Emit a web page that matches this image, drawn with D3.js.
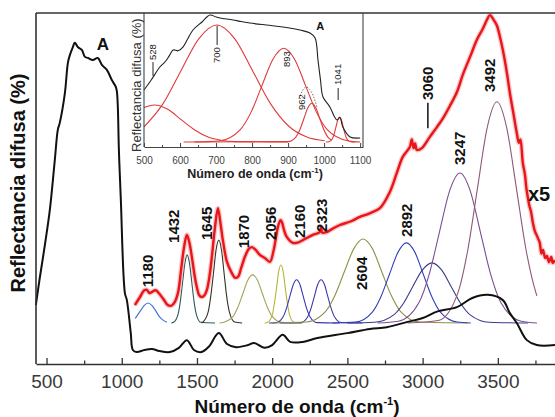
<!DOCTYPE html>
<html>
<head>
<meta charset="utf-8">
<script src="https://d3js.org/d3.v7.min.js"></script>
<style>
  body { margin: 0; background: #fff; }
  svg { font-family: "Liberation Sans", Arial, sans-serif; }
</style>
</head>
<body>
<div id="chart"></div>
<script>
// ---- Data (wavenumber cm-1, reflectance in arbitrary %) ----
var ticksX = [500, 1000, 1500, 2000, 2500, 3000, 3500];
var ticksXMinor = [750, 1250, 1750, 2250, 2750, 3250, 3750];
var ticksInset = [500, 600, 700, 800, 900, 1000, 1100];
var ticksInsetMinor = [550, 650, 750, 850, 950, 1050];

// black spectrum (A)
var espectroNegro = [[429,16.8],[455,24.5],[489,33.9],[522,43.9],[555,58.1],[575,66.7],[588,68.7],[622,77.2],[642,85.8],[655,88.0],[675,90.3],[688,91.5],[708,90.3],[735,89.5],[755,87.5],[775,87.2],[808,86.6],[841,87.2],[868,85.2],[901,83.8],[934,80.9],[961,78.9],[968,77.5],[974,73.2],[981,61],[994,46.7],[1021,20.2],[1034,18.2],[1060,8.8],[1074,4.0],[1100,3.4],[1150,4.0],[1200,4.3],[1250,3.7],[1320,3.4],[1380,4.6],[1433,6.8],[1480,4.0],[1530,3.4],[1580,5.0],[1645,8.8],[1700,5.7],[1760,4.8],[1840,5.4],[1880,6.0],[1950,4.6],[2000,5.4],[2070,8.3],[2120,6.3],[2204,6.3],[2300,7.4],[2500,8.8],[2650,10.0],[2762,10.5],[2900,12.0],[3001,13.1],[3100,15.0],[3228,16.2],[3330,18.8],[3433,19.7],[3533,18.2],[3580,14.5],[3626,11.7],[3693,6.8],[3759,5.4],[3880,5.4]];

// red spectrum (x5)
var espectroRojo = [[1087,16.8],[1120,19.0],[1150,21.0],[1167,21.1],[1185,20.2],[1200,20.5],[1225,21.0],[1250,20.0],[1280,18.3],[1306,16.8],[1330,16.6],[1353,17.7],[1375,20.5],[1395,27],[1415,33.5],[1433,36.8],[1450,34.5],[1466,30.5],[1485,25],[1499,21.9],[1515,19.6],[1532,19.1],[1550,19.6],[1566,21.1],[1585,25.5],[1599,30.5],[1620,39.0],[1639,44.4],[1655,40.5],[1672,35.3],[1700,29.0],[1732,25.9],[1752,24.6],[1772,24.8],[1795,27.5],[1818,30.5],[1845,32.8],[1865,33.3],[1890,32.5],[1918,31.1],[1951,30.2],[1985,29.1],[2010,32.5],[2038,39.0],[2055,41.0],[2064,40.5],[2080,38.0],[2097,36.2],[2137,34.5],[2170,34.6],[2204,35.3],[2270,36.8],[2317,37.6],[2325,39.0],[2333,37.4],[2363,37.6],[2400,38.5],[2450,39.6],[2520,40.6],[2583,41.9],[2640,42.8],[2716,44.4],[2782,49.0],[2829,54.5],[2868,59.0],[2915,61.8],[2928,64.0],[2940,61.5],[2950,62.8],[2962,61.0],[2995,61.5],[3048,64.7],[3095,67.5],[3135,70.0],[3181,73.5],[3228,77.5],[3268,82.5],[3320,88],[3360,92.3],[3400,95.5],[3427,98.0],[3447,99.4],[3470,98.2],[3493,96.5],[3515,93],[3533,89.5],[3560,83],[3580,77.2],[3605,71],[3626,65.8],[3640,63.0],[3650,64.0],[3666,57.3],[3680,54.0],[3690,50.0],[3699,47.6],[3710,45.0],[3720,43.5],[3733,40.2],[3745,38.0],[3760,36.5],[3770,35.5],[3779,34.5],[3790,31.5],[3800,32.5],[3815,30.2],[3826,30.8],[3840,29.0],[3855,30.5],[3865,28.8],[3879,29.6]];

// fitted bands (main plot)
var banda1180 = [[1090,13.0],[1125,15.2],[1150,16.7],[1175,17.4],[1200,16.7],[1225,15.2],[1250,13.5],[1275,12.5],[1300,11.9]];
var banda1432 = [[1330,11.7],[1345,11.9],[1375,14.3],[1390,18.0],[1405,23.5],[1420,28.8],[1435,31.1],[1450,28.8],[1465,23.5],[1480,18.0],[1495,14.3],[1525,11.9],[1620,11.7]];
var banda1645 = [[1530,11.7],[1540,11.96],[1575,14.9],[1592,19.4],[1610,26.0],[1627,32.5],[1645,35.3],[1663,32.5],[1680,26.0],[1697,19.4],[1715,14.9],[1750,11.96],[1800,11.7]];
var banda1870 = [[1650,11.7],[1675,11.85],[1740,13.55],[1772,16.15],[1805,20.0],[1837,23.8],[1870,25.4],[1903,23.8],[1935,20.0],[1968,16.15],[2000,13.55],[2065,11.85],[2200,11.7]];
var banda2056 = [[1950,11.7],[1971,11.9],[2000,13.9],[2014,17.1],[2029,21.7],[2043,26.3],[2058,28.2],[2073,26.3],[2087,21.7],[2102,17.1],[2116,13.9],[2145,11.9],[2200,11.7]];
var banda2160 = [[1980,11.7],[2027,11.8],[2072,13.4],[2094,15.7],[2117,19.2],[2140,22.6],[2162,24.0],[2185,22.6],[2207,19.2],[2230,15.7],[2252,13.4],[2297,11.8],[2450,11.7]];
var banda2323 = [[2050,11.7],[2190,11.8],[2235,13.4],[2257,15.7],[2280,19.2],[2302,22.6],[2325,24.0],[2348,22.6],[2370,19.2],[2393,15.7],[2415,13.4],[2460,11.8],[2600,11.7]];
var banda2604 = [[2000,11.7],[2229,11.97],[2354,14.9],[2417,19.5],[2479,26.2],[2542,32.8],[2604,35.6],[2667,32.8],[2729,26.2],[2792,19.5],[2854,14.9],[2979,11.97],[3300,11.7]];
var banda2892 = [[2400,11.7],[2553,11.95],[2666,14.8],[2722,19.1],[2779,25.5],[2836,31.8],[2892,34.5],[2949,31.8],[3005,25.5],[3062,19.1],[3118,14.8],[3231,11.95],[3320,11.7]];
var banda3060 = [[2500,11.7],[2681,11.9],[2808,14.0],[2872,17.25],[2935,22.1],[2999,26.8],[3062,28.8],[3126,26.8],[3189,22.1],[3253,17.25],[3316,14.0],[3443,11.9],[3700,11.7]];
var banda3247 = [[2700,11.7],[2840,12.2],[2976,17.5],[3044,25.6],[3112,37.6],[3180,49.4],[3248,54.4],[3316,49.4],[3384,37.6],[3452,25.6],[3520,17.5],[3656,12.2],[3760,11.7]];
var banda3492 = [[2900,11.7],[3104,12.4],[3234,20.2],[3299,32.2],[3364,49.9],[3429,67.3],[3494,74.7],[3559,67.3],[3624,49.9],[3689,32.2],[3754,20.2],[3760,19.4]];

var bandas = [banda1180, banda1432, banda1645, banda1870, banda2056, banda2160,
              banda2323, banda2604, banda2892, banda3060, banda3247, banda3492];
var coloresBandas = ["#3a6fd8", "#2b5a5a", "#33332a", "#a3a35a", "#b5b53a", "#3a3ab0",
                     "#3a3ab0", "#8f8f4a", "#3340b8", "#3a3a8a", "#7a4f8f", "#8b5a7a"];

// peak labels: text, wavenumber and reflectance of the label's lower end
var etiquetasTexto = ["1180", "1432", "1645", "1870", "2056", "2160", "2323", "2604", "2892", "3060", "3247", "3492"];
var etiquetasX = [1173, 1346, 1566, 1812, 1991, 2184, 2330, 2596, 2895, 3035, 3248, 3447];
var etiquetasY = [21.9, 34.5, 35.3, 33.0, 35.3, 35.9, 37.6, 21.1, 36.2, 75.2, 56.7, 77.5];

// inset (500-1100 cm-1)
var insetNegro = [[500,42.5],[520,50],[544,59.7],[560,64],[570,68],[581,72.4],[595,71.8],[608,74.6],[620,80],[636,87.3],[661,93.3],[683,98.5],[700,97],[711,96.3],[747,94.8],[770,93.6],[794,92.5],[840,91],[886,89.6],[933,87.3],[961,85.1],[975,81.3],[983,64.9],[990,50],[997,37.3],[1016,29.9],[1030,22],[1036,20.1],[1044,22],[1052,14.9],[1072,7.5],[1100,6.7]];
var inset528 = [[500,29.4],[528,31.3],[566,28.1],[603,20.4],[641,12.7],[678,7.4],[716,4.9],[753,4.0],[900,3.7]];
var inset700 = [[500,15.0],[552,32.0],[602,56.6],[652,80.7],[702,91.0],[752,80.7],[802,56.6],[852,32.0],[902,15.5],[952,7.5],[1002,4.7]];
var inset893 = [[640,3.7],[708,4.5],[768,13.2],[798,26.4],[828,46.2],[858,65.5],[888,73.7],[918,65.5],[948,46.2],[978,26.4],[1008,13.2],[1068,4.5],[1100,3.7]];
var inset962 = [[610,3.7],[900,4.0],[922,7.6],[933,13.1],[944,21.3],[955,29.3],[966,32.7],[977,29.3],[988,21.3],[999,13.1],[1010,7.6],[1021,5.0]];
var inset1041 = [[1005,3.7],[1013,3.9],[1023,6.2],[1028,9.8],[1033,15.0],[1038,20.2],[1043,22.4],[1048,20.2],[1053,15.0],[1058,9.8],[1063,6.2],[1073,3.9],[1085,3.7]];
var insetPunteado = [[930,36],[940,42],[950,44.8],[960,43],[970,38],[980,30]];
var insetBandas = [inset528, inset700, inset893, inset962, inset1041];

var insetEtiquetasTexto = ["528", "700", "893", "962", "1041"];
var insetEtiquetasX = [525, 703, 897, 939, 1039];
var insetEtiquetasY = [64.9, 62.7, 59.7, 27.6, 46.3];

// ---- Layout ----
var svgWidth = 555;
var svgHeight = 417;
var margin = { top: 13, right: 0, bottom: 53, left: 36 };
var chartWidth = svgWidth - margin.left - margin.right;
var chartHeight = svgHeight - margin.top - margin.bottom;

var svg = d3.select("#chart")
  .append("svg")
  .attr("width", svgWidth)
  .attr("height", svgHeight);

var chartGroup = svg.append("g")
  .attr("transform", `translate(${margin.left}, ${margin.top})`);

var xScale = d3.scaleLinear().domain([430, 3880]).range([0, chartWidth]);
var yScale = d3.scaleLinear().domain([0, 100]).range([chartHeight, 0]);

var lineSmooth = d3.line()
  .x(d => xScale(d[0]))
  .y(d => yScale(d[1]))
  .curve(d3.curveCatmullRom.alpha(0.5));

var lineBand = d3.line()
  .x(d => xScale(d[0]))
  .y(d => yScale(d[1]))
  .curve(d3.curveMonotoneX);

// fitted bands
chartGroup.selectAll(".banda")
  .data(bandas)
  .enter()
  .append("path")
  .attr("class", "banda")
  .attr("d", lineBand)
  .attr("fill", "none")
  .attr("stroke", (d, i) => coloresBandas[i])
  .attr("stroke-width", 1.1);

// black spectrum
chartGroup.append("path")
  .attr("d", lineSmooth(espectroNegro))
  .attr("fill", "none")
  .attr("stroke", "#111")
  .attr("stroke-width", 2);

// red spectrum with a soft halo
chartGroup.append("path")
  .attr("d", lineSmooth(espectroRojo))
  .attr("fill", "none")
  .attr("stroke", "#f6a5a5")
  .attr("stroke-width", 5)
  .attr("opacity", 0.6);
chartGroup.append("path")
  .attr("d", lineSmooth(espectroRojo))
  .attr("fill", "none")
  .attr("stroke", "#e8151b")
  .attr("stroke-width", 2.4)
  .attr("stroke-linejoin", "round");

// peak labels
chartGroup.selectAll(".pico")
  .data(etiquetasTexto)
  .enter()
  .append("text")
  .attr("class", "pico")
  .attr("transform", (d, i) => `translate(${xScale(etiquetasX[i])}, ${yScale(etiquetasY[i])}) rotate(-90)`)
  .attr("dy", "0.35em")
  .attr("font-size", 15)
  .attr("font-weight", "bold")
  .attr("fill", "#111")
  .text(d => d);

// arrow line under 3060
chartGroup.append("line")
  .attr("x1", xScale(3035)).attr("x2", xScale(3035))
  .attr("y1", yScale(74.4)).attr("y2", yScale(67.2))
  .attr("stroke", "#111").attr("stroke-width", 1.5);

chartGroup.append("text")
  .attr("x", xScale(3700)).attr("y", yScale(46.5))
  .attr("font-size", 20).attr("font-weight", "bold").attr("fill", "#111")
  .text("x5");

chartGroup.append("text")
  .attr("x", xScale(874)).attr("y", yScale(89.5))
  .attr("text-anchor", "middle")
  .attr("font-size", 17).attr("font-weight", "bold").attr("fill", "#111")
  .text("A");

// axes / frame
var xAxis = chartGroup.append("g")
  .attr("transform", `translate(0, ${chartHeight})`)
  .call(d3.axisBottom(xScale).tickValues(ticksX).tickFormat(d3.format("d"))
    .tickSizeInner(-6).tickSizeOuter(0).tickPadding(11));
xAxis.select(".domain").attr("stroke", "#333").attr("stroke-width", 1.6);
xAxis.selectAll(".tick line").attr("stroke", "#333").attr("stroke-width", 1.3);
xAxis.selectAll("text").attr("font-size", 19).attr("fill", "#3a3a3a")
  .attr("font-family", "'Liberation Sans', Arial, sans-serif");

var xMinor = chartGroup.append("g")
  .attr("transform", `translate(0, ${chartHeight})`)
  .call(d3.axisBottom(xScale).tickValues(ticksXMinor).tickSize(-3.5).tickFormat(""));
xMinor.select(".domain").remove();
xMinor.selectAll(".tick line").attr("stroke", "#333").attr("stroke-width", 1.3);

chartGroup.append("line")
  .attr("x1", 0).attr("x2", 0).attr("y1", 0).attr("y2", chartHeight)
  .attr("stroke", "#333").attr("stroke-width", 1.6);
chartGroup.append("line")
  .attr("x1", 0).attr("x2", chartWidth).attr("y1", 0).attr("y2", 0)
  .attr("stroke", "#333").attr("stroke-width", 1.6);

// axis titles
var xTitle = svg.append("text")
  .attr("x", 297).attr("y", 413)
  .attr("text-anchor", "middle")
  .attr("font-size", 19).attr("font-weight", "bold").attr("fill", "#111");
xTitle.append("tspan").text("Número de onda (cm");
xTitle.append("tspan").attr("dy", -8).attr("font-size", 11).text("-1");
xTitle.append("tspan").attr("dy", 8).text(")");

svg.append("text")
  .attr("transform", "translate(25, 183) rotate(-90)")
  .attr("text-anchor", "middle")
  .attr("font-size", 20).attr("font-weight", "bold").attr("fill", "#111")
  .text("Reflectancia difusa (%)");

// ---- Inset ----
var inset = { left: 144, top: 13, width: 219, height: 134 };
var insetGroup = svg.append("g")
  .attr("transform", `translate(${inset.left}, ${inset.top})`);

var insetX = d3.scaleLinear().domain([500, 1108]).range([0, inset.width]);
var insetY = d3.scaleLinear().domain([0, 100]).range([inset.height, 0]);

var insetLine = d3.line()
  .x(d => insetX(d[0]))
  .y(d => insetY(d[1]))
  .curve(d3.curveMonotoneX);

insetGroup.selectAll(".ibanda")
  .data(insetBandas)
  .enter()
  .append("path")
  .attr("class", "ibanda")
  .attr("d", insetLine)
  .attr("fill", "none")
  .attr("stroke", "#e03a3a")
  .attr("stroke-width", 1.1);

insetGroup.append("path")
  .attr("d", insetLine(insetPunteado))
  .attr("fill", "none")
  .attr("stroke", "#777")
  .attr("stroke-width", 1)
  .attr("stroke-dasharray", "1.5,1.5");

insetGroup.append("path")
  .attr("d", d3.line().x(d => insetX(d[0])).y(d => insetY(d[1])).curve(d3.curveCatmullRom.alpha(0.5))(insetNegro))
  .attr("fill", "none")
  .attr("stroke", "#222")
  .attr("stroke-width", 1.1);

insetGroup.selectAll(".ipico")
  .data(insetEtiquetasTexto)
  .enter()
  .append("text")
  .attr("class", "ipico")
  .attr("transform", (d, i) => `translate(${insetX(insetEtiquetasX[i])}, ${insetY(insetEtiquetasY[i])}) rotate(-90)`)
  .attr("dy", "0.35em")
  .attr("font-size", 9.5)
  .attr("fill", "#222")
  .text(d => d);

// small marker lines for 528, 700 and 1041
insetGroup.append("line")
  .attr("x1", insetX(525)).attr("x2", insetX(525))
  .attr("y1", insetY(63.4)).attr("y2", insetY(53.0))
  .attr("stroke", "#222").attr("stroke-width", 1);
insetGroup.append("line")
  .attr("x1", insetX(703)).attr("x2", insetX(703))
  .attr("y1", insetY(76.1)).attr("y2", insetY(90.3))
  .attr("stroke", "#222").attr("stroke-width", 1);
insetGroup.append("line")
  .attr("x1", insetX(1039)).attr("x2", insetX(1039))
  .attr("y1", insetY(44.0)).attr("y2", insetY(35.1))
  .attr("stroke", "#222").attr("stroke-width", 1);

insetGroup.append("text")
  .attr("x", insetX(989)).attr("y", insetY(87.3))
  .attr("text-anchor", "middle")
  .attr("font-size", 11).attr("font-weight", "bold").attr("fill", "#111")
  .text("A");

var insetAxis = insetGroup.append("g")
  .attr("transform", `translate(0, ${inset.height})`)
  .call(d3.axisBottom(insetX).tickValues(ticksInset).tickFormat(d3.format("d"))
    .tickSizeInner(-4).tickSizeOuter(0).tickPadding(10));
insetAxis.select(".domain").attr("stroke", "#444").attr("stroke-width", 1.1);
insetAxis.selectAll(".tick line").attr("stroke", "#444");
insetAxis.selectAll("text").attr("font-size", 10).attr("fill", "#444")
  .attr("font-family", "'Liberation Sans', Arial, sans-serif");

var insetMinor = insetGroup.append("g")
  .attr("transform", `translate(0, ${inset.height})`)
  .call(d3.axisBottom(insetX).tickValues(ticksInsetMinor).tickSize(-2).tickFormat(""));
insetMinor.select(".domain").remove();
insetMinor.selectAll(".tick line").attr("stroke", "#444");

insetGroup.append("line")
  .attr("x1", 0).attr("x2", 0).attr("y1", 0).attr("y2", inset.height)
  .attr("stroke", "#444").attr("stroke-width", 1.1);
insetGroup.append("line")
  .attr("x1", inset.width).attr("x2", inset.width).attr("y1", 0).attr("y2", inset.height)
  .attr("stroke", "#444").attr("stroke-width", 1.1);

var insetTitle = insetGroup.append("text")
  .attr("x", 111).attr("y", 165)
  .attr("text-anchor", "middle")
  .attr("font-size", 12.5).attr("font-weight", "bold").attr("fill", "#222");
insetTitle.append("tspan").text("Número de onda (cm");
insetTitle.append("tspan").attr("dy", -5).attr("font-size", 8).text("-1");
insetTitle.append("tspan").attr("dy", 5).text(")");

// inset y title, clipped at the frame top
svg.append("clipPath").attr("id", "clipTop")
  .append("rect").attr("x", 0).attr("y", 14).attr("width", svgWidth).attr("height", svgHeight);

svg.append("g")
  .attr("clip-path", "url(#clipTop)")
  .append("text")
  .attr("transform", "translate(136, 152) rotate(-90)")
  .attr("dy", "0.35em")
  .attr("font-size", 13).attr("fill", "#333")
  .text("Reflectancia difusa (%)");
</script>
</body>
</html>
